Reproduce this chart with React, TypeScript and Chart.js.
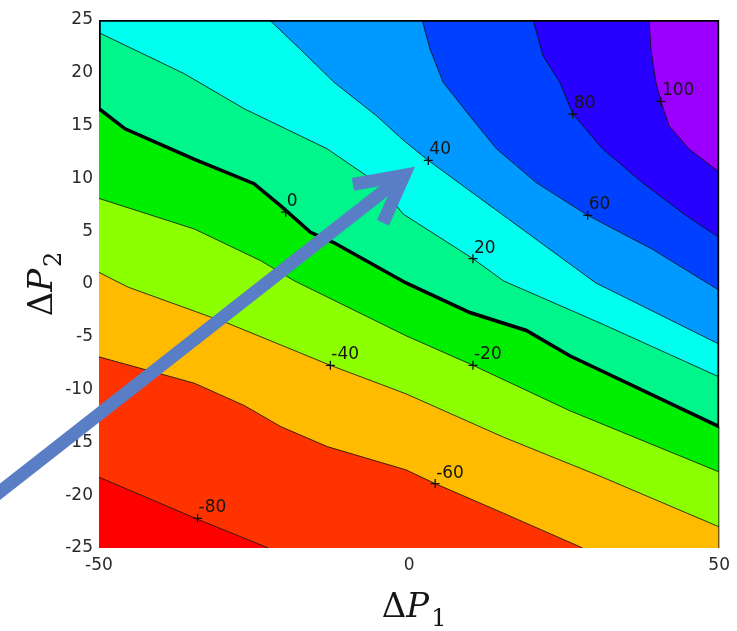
import React, { useEffect, useRef } from 'react';
import { Chart, registerables } from 'chart.js';
Chart.register(...registerables);

// ---- axis ticks ----
const X_TICKS = [-50, 0, 50];
const Y_TICKS = [-25, -20, -15, -10, -5, 0, 5, 10, 15, 20, 25];

// ---- contour levels and band colours (band i lies below LEVELS[i]) ----
const LEVELS = [-80, -60, -40, -20, 0, 20, 40, 60, 80, 100];
const BAND_COLORS = ['#FF0000', '#FF3300', '#FFBB00', '#8CFF00', '#00EE00', '#00F58A', '#00FFEE', '#0099FF', '#0040FF', '#2800FF', '#9B00FF'];

// ---- contour lines (ΔP1, ΔP2) ----
const C_M80 = [[-50, -18.3], [-34, -22.3], [-22.7, -25]];
const C_M60 = [[-50, -6.9], [-34.6, -9.4], [-26.6, -11.5], [-20.7, -13.5], [-13.2, -15.4], [-0.5, -17.6], [4.2, -18.9], [15.2, -21.7], [28, -25]];
const C_M40 = [[-50, 1.1], [-45.3, -0.3], [-29.3, -3.7], [-12.7, -7.7], [-0.5, -10.4], [15.2, -14.5], [31.2, -18.3], [50, -23.0]];
const C_M20 = [[-50, 8.1], [-34.6, 5.2], [-23.9, 2.2], [-18.5, 0.3], [-0.5, -4.9], [10.3, -7.7], [25.9, -12.0], [50, -17.8]];
const C_0 = [[-50, 16.6], [-45.8, 14.7], [-34.6, 11.8], [-25, 9.5], [-20.7, 7.4], [-15.9, 4.9], [-12.1, 3.9], [-0.5, 0.1], [9.8, -2.7], [18.9, -4.4], [25.9, -6.8], [50, -13.5]];
const C_20 = [[-50, 23.8], [-36.2, 19.9], [-26.6, 16.6], [-13.2, 12.8], [-5, 9.5], [-0.9, 6.6], [10.3, 2.4], [15.2, 0.3], [31.2, -3.8], [50, -8.8]];
const C_40 = [[-22.5, 25], [-17.5, 22.2], [-12.1, 19.1], [-5.2, 15.9], [-0.9, 13.6], [3.1, 11.7], [15.2, 6.5], [30.1, 0.1], [50, -5.7]];
const C_60 = [[2.1, 25], [3.4, 22.2], [5.5, 19.1], [9.8, 15.9], [14.1, 12.8], [20.5, 9.6], [28.8, 6.5], [39.2, 3.3], [50, -0.6]];
const C_80 = [[20, 25], [21.6, 21.6], [24.3, 19.1], [26.4, 16.1], [31.2, 12.8], [37.6, 9.6], [44.6, 6.5], [50, 4.4]];
const C_100 = [[38.7, 25], [39.0, 22.2], [39.8, 19.1], [40.6, 17.3], [41.9, 15.0], [45.1, 12.8], [50, 10.6]];
const CONTOURS = [C_M80, C_M60, C_M40, C_M20, C_0, C_20, C_40, C_60, C_80, C_100];

// ---- inline contour labels ----
const LABEL_TEXT = ['-80', '-60', '-40', '-20', '0', '20', '40', '60', '80', '100'];
const LABEL_X = [-34.1, 4.2, -12.7, 10.3, -19.9, 10.3, 3.1, 28.8, 26.4, 40.6];
const LABEL_Y = [-22.2, -18.9, -7.7, -7.7, 6.8, 2.4, 11.7, 6.5, 16.1, 17.3];

// ---- annotation arrow (data units) ----
const ARROW_FROM = [-68, -20.6];
const ARROW_TO = [-0.8, 10.3];

const X_MIN = -50, X_MAX = 50, Y_MIN = -25, Y_MAX = 25;

const pts = (a: number[][]) => a.map(([x, y]) => ({ x, y }));

function drawMath(ctx: CanvasRenderingContext2D, sub: string, cx: number, baseY: number) {
  const fMain = '34px "DejaVu Serif"';
  const fIt = 'italic 34px "DejaVu Serif"';
  const fSub = '24px "DejaVu Serif"';
  ctx.font = fMain; const wD = ctx.measureText('Δ').width;
  ctx.font = fIt; const wP = ctx.measureText('P').width;
  ctx.font = fSub; const wS = ctx.measureText(sub).width;
  const gap = 2;
  const x0 = cx - (wD + wP + gap + wS) / 2;
  ctx.textAlign = 'left';
  ctx.textBaseline = 'alphabetic';
  ctx.fillStyle = '#151515';
  ctx.font = fMain; ctx.fillText('Δ', x0, baseY);
  ctx.font = fIt; ctx.fillText('P', x0 + wD, baseY);
  ctx.font = fSub; ctx.fillText(sub, x0 + wD + wP + gap, baseY + 9);
}

const overlayPlugin = {
  id: 'overlay',
  afterDatasetsDraw(chart: any) {
    const { ctx, scales } = chart;
    const xs = scales.x, ys = scales.y;
    ctx.save();
    ctx.font = '17px "DejaVu Sans"';
    ctx.fillStyle = '#161616';
    ctx.textAlign = 'left';
    ctx.textBaseline = 'alphabetic';
    LABEL_TEXT.forEach((t, i) => {
      const px = xs.getPixelForValue(LABEL_X[i]);
      const py = ys.getPixelForValue(LABEL_Y[i]);
      ctx.fillText(t, px + 1, py - 6);
    });
    ctx.restore();
  },
  afterDraw(chart: any) {
    const { ctx, scales, chartArea } = chart;
    const xs = scales.x, ys = scales.y;
    // arrow
    const x0 = xs.getPixelForValue(ARROW_FROM[0]);
    const y0 = ys.getPixelForValue(ARROW_FROM[1]);
    const x1 = xs.getPixelForValue(ARROW_TO[0]);
    const y1 = ys.getPixelForValue(ARROW_TO[1]);
    const back = Math.atan2(y0 - y1, x0 - x1);
    const wing = 52, spread = (28 * Math.PI) / 180;
    ctx.save();
    ctx.strokeStyle = '#5A7EC6';
    ctx.lineWidth = 13;
    ctx.lineCap = 'butt';
    ctx.lineJoin = 'miter';
    ctx.beginPath();
    ctx.moveTo(x0, y0);
    ctx.lineTo(x1, y1);
    ctx.stroke();
    ctx.beginPath();
    ctx.moveTo(x1 + wing * Math.cos(back + spread), y1 + wing * Math.sin(back + spread));
    ctx.lineTo(x1, y1);
    ctx.lineTo(x1 + wing * Math.cos(back - spread), y1 + wing * Math.sin(back - spread));
    ctx.stroke();
    ctx.restore();
    // axis titles
    ctx.save();
    drawMath(ctx, '1', (chartArea.left + chartArea.right) / 2 + 5, chartArea.bottom + 69);
    ctx.restore();
    ctx.save();
    ctx.translate(chartArea.left - 47, (chartArea.top + chartArea.bottom) / 2);
    ctx.rotate(-Math.PI / 2);
    drawMath(ctx, '2', 0, 0);
    ctx.restore();
  },
};

export default function App() {
  const ref = useRef<HTMLCanvasElement>(null);
  useEffect(() => {
    const datasets: any[] = [];
    // background band (lowest values)
    datasets.push({
      data: pts([[X_MIN, Y_MIN], [X_MAX, Y_MIN]]),
      fill: 'end', backgroundColor: BAND_COLORS[0], borderWidth: 0, pointRadius: 0, order: 20,
    });
    // filled bands above each contour level
    CONTOURS.forEach((c, i) => {
      const poly = c.slice();
      const last = poly[poly.length - 1];
      if (last[1] === Y_MIN && last[0] < X_MAX) poly.push([X_MAX, Y_MIN]);
      datasets.push({
        data: pts(poly), fill: 'end', backgroundColor: BAND_COLORS[i + 1],
        borderWidth: 0, pointRadius: 0, order: 19 - i,
      });
    });
    // thin contour lines
    CONTOURS.forEach((c, i) => {
      if (LEVELS[i] === 0) return;
      datasets.push({
        data: pts(c), fill: false, borderColor: 'rgba(15,15,15,0.8)', borderWidth: 1,
        pointRadius: 0, order: 3,
      });
    });
    // right edge thin line
    datasets.push({
      data: pts([[X_MAX, C_0[C_0.length - 1][1]], [X_MAX, Y_MIN]]), fill: false,
      borderColor: 'rgba(15,15,15,0.8)', borderWidth: 1, pointRadius: 0, order: 2,
    });
    // thick outline of the zero region
    datasets.push({
      data: pts([...C_0, [X_MAX, Y_MAX], [X_MIN, Y_MAX], C_0[0]]), fill: false,
      borderColor: '#000', borderWidth: 3.5, pointRadius: 0, order: 1,
    });
    // label markers
    datasets.push({
      data: LABEL_X.map((x, i) => ({ x, y: LABEL_Y[i] })), showLine: false, fill: false,
      pointStyle: 'cross', pointRadius: 4.5, pointBorderWidth: 1.3, pointBorderColor: '#111',
      borderColor: '#111', order: 0,
    });

    const tickFont = { family: '"DejaVu Sans"', size: 17 };
    const chart = new Chart(ref.current!, {
      type: 'line',
      data: { datasets },
      options: {
        animation: false,
        responsive: false,
        devicePixelRatio: 1,
        events: [],
        layout: { padding: { left: 0, right: 15, top: 20, bottom: 0 } },
        plugins: { legend: { display: false }, tooltip: { enabled: false } },
        scales: {
          x: {
            type: 'linear', min: X_MIN, max: X_MAX,
            grid: { display: false, drawTicks: false }, border: { display: false },
            afterBuildTicks: (s: any) => { s.ticks = X_TICKS.map((v) => ({ value: v })); },
            afterFit: (s: any) => { s.height = 83; },
            ticks: { font: tickFont, color: '#2a2a2a', padding: 7, maxRotation: 0, autoSkip: false, callback: (v: any) => String(v) },
          },
          y: {
            type: 'linear', min: Y_MIN, max: Y_MAX,
            grid: { display: false, drawTicks: false }, border: { display: false },
            afterBuildTicks: (s: any) => { s.ticks = Y_TICKS.map((v) => ({ value: v })); },
            afterFit: (s: any) => { s.width = 99; },
            ticks: { font: tickFont, color: '#2a2a2a', padding: 6, autoSkip: false, callback: (v: any) => String(v) },
          },
        },
      },
      plugins: [overlayPlugin],
    } as any);
    return () => chart.destroy();
  }, []);
  return (
    <div style={{ position: 'absolute', left: 0, top: 0, width: 737, height: 631, background: '#fff' }}>
      <canvas ref={ref} width={737} height={631} style={{ display: 'block', width: 737, height: 631 }} />
    </div>
  );
}
